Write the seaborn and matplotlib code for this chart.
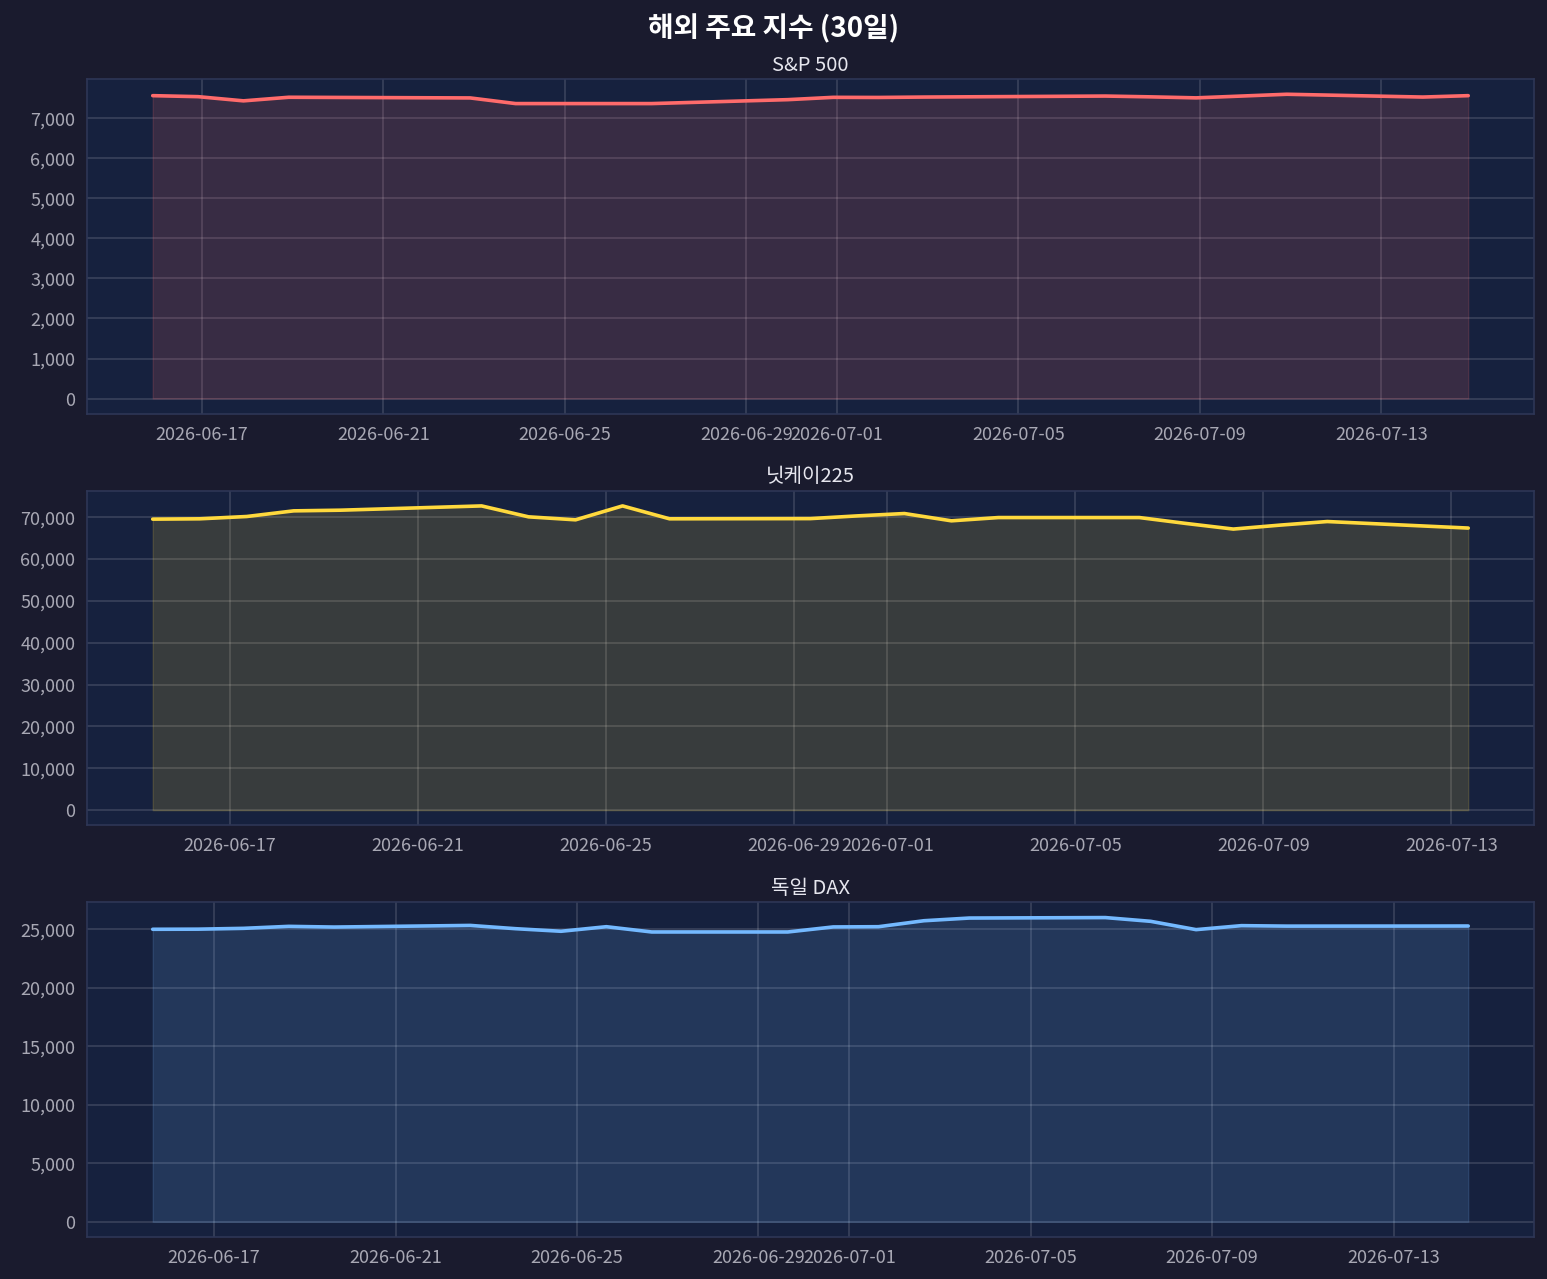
import matplotlib
matplotlib.use("Agg")
import matplotlib.pyplot as plt
import matplotlib.ticker as mticker
import seaborn as sns
import pandas as pd

# S&P 500 (US trading days, 6/19 and 7/3 closed)
spx_dates = ["2026-06-15", "2026-06-16", "2026-06-17", "2026-06-18",
             "2026-06-22", "2026-06-23", "2026-06-24", "2026-06-25", "2026-06-26",
             "2026-06-29", "2026-06-30", "2026-07-01", "2026-07-02",
             "2026-07-06", "2026-07-07", "2026-07-08", "2026-07-09", "2026-07-10",
             "2026-07-13", "2026-07-14"]
spx_close = [7570, 7545, 7440, 7530,
             7513, 7372, 7372, 7372, 7372,
             7470, 7528, 7525, 7535,
             7560, 7540, 7515, 7560, 7605,
             7535, 7570]
spx_time = "22:00"

# Nikkei 225
nky_dates = ["2026-06-15", "2026-06-16", "2026-06-17", "2026-06-18", "2026-06-19",
             "2026-06-22", "2026-06-23", "2026-06-24", "2026-06-25", "2026-06-26",
             "2026-06-29", "2026-06-30", "2026-07-01", "2026-07-02", "2026-07-03",
             "2026-07-06", "2026-07-07", "2026-07-08", "2026-07-09", "2026-07-10",
             "2026-07-13"]
nky_close = [69520, 69600, 70150, 71500, 71660,
             72680, 70070, 69360, 72680, 69600,
             69650, 70300, 70860, 69120, 69900,
             69900, 68480, 67150, 68100, 68950,
             67390]
nky_time = "08:40"

# DAX
dax_dates = ["2026-06-15", "2026-06-16", "2026-06-17", "2026-06-18", "2026-06-19",
             "2026-06-22", "2026-06-23", "2026-06-24", "2026-06-25", "2026-06-26",
             "2026-06-29", "2026-06-30", "2026-07-01", "2026-07-02", "2026-07-03",
             "2026-07-06", "2026-07-07", "2026-07-08", "2026-07-09", "2026-07-10",
             "2026-07-13", "2026-07-14"]
dax_close = [25000, 25010, 25080, 25250, 25190,
             25330, 25050, 24830, 25220, 24770,
             24770, 25200, 25220, 25730, 25960,
             26000, 25680, 24970, 25310, 25270,
             25275, 25280]
dax_time = "15:30"

titles = ["S&P 500", "닛케이225", "독일 DAX"]
colors = ["#ff6b6b", "#ffd93d", "#74b9ff"]
y_steps = [1000, 10000, 5000]

BG = "#1a1b2e"
AX_BG = "#16213e"

sns.set_theme(style="dark")
plt.rcParams["font.family"] = ["Noto Sans CJK KR", "DejaVu Sans"]
plt.rcParams["axes.unicode_minus"] = False

series = [(spx_dates, spx_close, spx_time),
          (nky_dates, nky_close, nky_time),
          (dax_dates, dax_close, dax_time)]

fig, axes = plt.subplots(3, 1, figsize=(15.47, 12.79), dpi=100)
fig.patch.set_facecolor(BG)
fig.subplots_adjust(left=0.0562, right=0.9916, top=0.9382, bottom=0.0328, hspace=0.23)

for ax, (d, v, t), title, c, step in zip(axes, series, titles, colors, y_steps):
    df = pd.DataFrame({"date": pd.to_datetime(d) + pd.Timedelta(t + ":00"), "close": v})
    sns.lineplot(data=df, x="date", y="close", ax=ax, color=c, linewidth=2.6)
    ax.fill_between(df["date"], df["close"], 0, color=c, alpha=0.15)
    ax.set_facecolor(AX_BG)
    ax.set_title(title, color="#e6e6ee", fontsize=14.5, pad=6)
    ax.set_xlabel("")
    ax.set_ylabel("")
    ax.grid(True, color="white", alpha=0.15, linewidth=1.2)
    ax.tick_params(colors="#9a9aa8", labelsize=13, length=5, width=1.2)
    ax.tick_params(axis="both", labelcolor="#a8a8b4")
    for s in ax.spines.values():
        s.set_visible(True)
        s.set_color("#2e3656")
        s.set_linewidth(1.2)
    ax.yaxis.set_major_locator(mticker.MultipleLocator(step))
    ax.yaxis.set_major_formatter(mticker.StrMethodFormatter("{x:,.0f}"))

fig.suptitle("해외 주요 지수 (30일)", color="white", fontsize=20, fontweight="bold", y=0.989)

fig.savefig("out.png", dpi=100, facecolor=BG)
